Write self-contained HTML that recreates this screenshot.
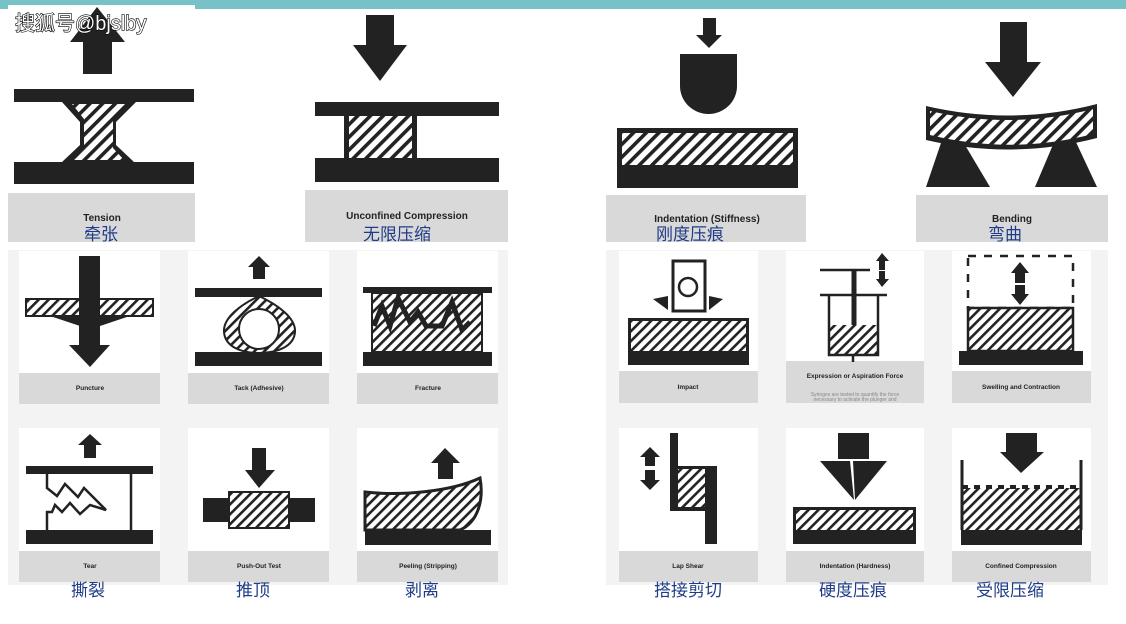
<!DOCTYPE html>
<html><head><meta charset="utf-8"><style>
html,body{margin:0;padding:0;background:#fff;}
svg{display:block}
.en{font-family:"Liberation Sans",sans-serif;font-weight:bold;fill:#222;text-anchor:middle}
.cn{font-family:"Liberation Sans","Noto Sans CJK SC",sans-serif;fill:#1f3c88;text-anchor:middle;font-size:17px}
</style></head><body>
<svg width="1126" height="624" viewBox="0 0 1126 624" xmlns="http://www.w3.org/2000/svg">
<defs>
<pattern id="h" width="9" height="9" patternUnits="userSpaceOnUse" patternTransform="rotate(45)">
<rect width="9" height="9" fill="#fff"/><rect x="0" y="0" width="3.6" height="9" fill="#222"/>
</pattern>
<pattern id="hs" width="7" height="7" patternUnits="userSpaceOnUse" patternTransform="rotate(45)">
<rect width="7" height="7" fill="#fff"/><rect x="0" y="0" width="2.6" height="7" fill="#222"/>
</pattern>
</defs>
<rect x="0" y="0" width="1126" height="9" fill="#76c2c6"/>
<rect x="8" y="5" width="187" height="10" fill="#fff"/>

<!-- Tension -->
<g fill="#222">
<polygon points="97,7 125,42 70,42"/><rect x="83" y="42" width="29" height="32"/>
<rect x="14" y="89" width="180" height="13"/>
<rect x="14" y="162" width="180" height="22"/>
<path d="M62,102 L136,102 L116,122 L116,145 L134,162 L62,162 L80,145 L80,122 Z"/>
</g>
<path d="M72,104 L126,104 L113,119 L113,148 L124,160 L72,160 L84,148 L84,119 Z" fill="url(#h)"/>
<rect x="8" y="193" width="187" height="49" fill="#d9d9d9"/>
<text class="en" x="102" y="221" font-size="10">Tension</text>
<text class="cn" x="101" y="240">牵张</text>

<!-- Unconfined -->
<g fill="#222">
<rect x="366" y="15" width="28" height="30"/><polygon points="353,45 407,45 380,81"/>
<rect x="315" y="102" width="184" height="14"/>
<rect x="315" y="158" width="184" height="24"/>
<rect x="344" y="116" width="73" height="42"/>
</g>
<rect x="349" y="116" width="63" height="42" fill="url(#h)"/>
<rect x="305" y="190" width="203" height="52" fill="#d9d9d9"/>
<text class="en" x="407" y="219" font-size="10">Unconfined Compression</text>
<text class="cn" x="397" y="240">无限压缩</text>

<!-- Indentation stiffness -->
<g fill="#222">
<rect x="703" y="18" width="13" height="17"/><polygon points="696,35 722,35 709,48"/>
<path d="M680,54 L737,54 L737,86 A28.5,28 0 0 1 680,86 Z"/>
<rect x="617" y="128" width="181" height="60"/>
</g>
<rect x="622" y="133" width="171" height="32" fill="url(#h)"/>
<rect x="606" y="195" width="200" height="47" fill="#d9d9d9"/>
<text class="en" x="707" y="222" font-size="10">Indentation (Stiffness)</text>
<text class="cn" x="690" y="240">刚度压痕</text>

<!-- Bending -->
<g fill="#222">
<rect x="1000" y="22" width="27" height="40"/><polygon points="985,62 1041,62 1013,97"/>
<polygon points="942,140 962,140 990,187 926,187"/>
<polygon points="1055,140 1075,140 1097,187 1035,187"/>
<path d="M926,106 Q1012,126 1097,104 L1097,138 Q1012,160 926,140 Z"/>
</g>
<path d="M930,111 Q1012,130 1093,109 L1093,134 Q1012,155 930,135 Z" fill="url(#h)"/>
<rect x="916" y="195" width="192" height="47" fill="#d9d9d9"/>
<text class="en" x="1012" y="222" font-size="10">Bending</text>
<text class="cn" x="1005" y="240">弯曲</text>

<!-- lower panels -->
<rect x="8" y="250" width="500" height="335" fill="#f3f3f3"/>
<rect x="606" y="250" width="502" height="335" fill="#f3f3f3"/>
<g fill="#fff">
<rect x="19" y="251" width="141" height="122"/><rect x="188" y="251" width="141" height="122"/><rect x="357" y="251" width="141" height="122"/>
<rect x="19" y="428" width="141" height="123"/><rect x="188" y="428" width="141" height="123"/><rect x="357" y="428" width="141" height="123"/>
<rect x="619" y="251" width="139" height="120"/><rect x="786" y="251" width="138" height="110"/><rect x="952" y="251" width="139" height="120"/>
<rect x="619" y="428" width="139" height="123"/><rect x="786" y="428" width="138" height="123"/><rect x="952" y="428" width="139" height="123"/>
</g>
<g fill="#d9d9d9">
<rect x="19" y="373" width="141" height="31"/><rect x="188" y="373" width="141" height="31"/><rect x="357" y="373" width="141" height="31"/>
<rect x="19" y="551" width="141" height="31"/><rect x="188" y="551" width="141" height="31"/><rect x="357" y="551" width="141" height="31"/>
<rect x="619" y="371" width="139" height="32"/><rect x="786" y="361" width="138" height="42"/><rect x="952" y="371" width="139" height="32"/>
<rect x="619" y="551" width="139" height="31"/><rect x="786" y="551" width="138" height="31"/><rect x="952" y="551" width="139" height="31"/>
</g>
<g class="en" font-size="6.5">
<text x="90" y="390">Puncture</text><text x="259" y="390">Tack (Adhesive)</text><text x="428" y="390">Fracture</text>
<text x="90" y="568">Tear</text><text x="259" y="568">Push-Out Test</text><text x="428" y="568">Peeling (Stripping)</text>
<text x="688" y="389">Impact</text><text x="855" y="378">Expression or Aspiration Force</text><text x="1021" y="389">Swelling and Contraction</text>
<text x="688" y="568">Lap Shear</text><text x="855" y="568">Indentation (Hardness)</text><text x="1021" y="568">Confined Compression</text>
</g>
<text x="855" y="396" font-family="Liberation Sans,sans-serif" font-size="5" fill="#888" text-anchor="middle">Syringes are tested to quantify the force</text>
<text x="855" y="401" font-family="Liberation Sans,sans-serif" font-size="5" fill="#888" text-anchor="middle">necessary to activate the plunger and</text>
<g class="cn">
<text x="88" y="596">撕裂</text><text x="253" y="596">推顶</text><text x="422" y="596">剥离</text>
<text x="688" y="596">搭接剪切</text><text x="853" y="596">硬度压痕</text><text x="1010" y="596">受限压缩</text>
</g>

<!-- Puncture -->
<rect x="26" y="299" width="127" height="17" fill="url(#hs)" stroke="#222" stroke-width="2"/>
<g fill="#222">
<path d="M50,316 L130,316 L100,326 L80,326 Z"/>
<rect x="79" y="256" width="21" height="89"/><polygon points="69,345 110,345 90,367"/>
</g>
<!-- Tack -->
<g fill="#222">
<polygon points="259,256 270,267 248,267"/><rect x="253" y="267" width="12" height="12"/>
<rect x="195" y="288" width="127" height="9"/><rect x="195" y="352" width="127" height="14"/>
</g>
<path d="M259,296 C240,305 223,318 224,332 C225,346 240,353 259,353 C278,353 294,346 295,332 C296,318 278,305 259,296 Z" fill="url(#hs)" stroke="#222" stroke-width="2"/>
<circle cx="259" cy="329" r="20" fill="#fff" stroke="#222" stroke-width="2"/>
<!-- Fracture -->
<g fill="#222"><rect x="363" y="287" width="129" height="6"/><rect x="363" y="352" width="129" height="14"/></g>
<rect x="372" y="293" width="110" height="59" fill="url(#hs)" stroke="#222" stroke-width="2"/>
<polyline points="374,326 382,306 390,326 398,298 410,322 418,312 426,326 442,326 452,302 462,330 470,322" fill="none" stroke="#222" stroke-width="5" stroke-linejoin="miter"/>
<!-- Tear -->
<g fill="#222">
<polygon points="90,434 102,445 78,445"/><rect x="84" y="445" width="12" height="13"/>
<rect x="26" y="466" width="127" height="8"/><rect x="26" y="530" width="127" height="14"/>
</g>
<g fill="none" stroke="#222" stroke-width="2.5">
<line x1="131" y1="474" x2="131" y2="530"/>
<path d="M47,474 L47,488 L57,496 L65,484 L78,497 L84,488 L106,510 L90,505 L80,514 L70,503 L62,512 L55,505 L52,512 L47,512 L47,530"/>
</g>
<!-- Push-out -->
<g fill="#222">
<rect x="252" y="448" width="14" height="23"/><polygon points="245,470 275,470 259,488"/>
<rect x="203" y="498" width="28" height="24"/><rect x="288" y="498" width="27" height="24"/>
</g>
<rect x="229" y="492" width="60" height="36" fill="url(#hs)" stroke="#222" stroke-width="2"/>
<!-- Peeling -->
<g fill="#222">
<polygon points="445,448 460,463 431,463"/><rect x="438" y="463" width="15" height="16"/>
<rect x="365" y="530" width="126" height="15"/>
</g>
<path d="M365,492 C400,496 450,492 480,478 C484,500 478,522 460,530 L365,530 Z" fill="url(#hs)" stroke="#222" stroke-width="3"/>

<!-- Impact -->
<rect x="673" y="261" width="32" height="50" fill="#fff" stroke="#222" stroke-width="3"/>
<circle cx="688" cy="287" r="9" fill="none" stroke="#222" stroke-width="2.5"/>
<g fill="#222">
<polygon points="653,299 668,310 668,296"/><polygon points="723,299 709,310 709,296"/>
<rect x="628" y="318" width="121" height="47"/>
</g>
<rect x="631" y="321" width="115" height="30" fill="url(#hs)"/>
<!-- Expression -->
<g fill="#222" stroke="#222">
<line x1="820" y1="270" x2="870" y2="270" stroke-width="2.5"/>
<line x1="854" y1="270" x2="854" y2="325" stroke-width="5"/>
<line x1="820" y1="295" x2="887" y2="295" stroke-width="2.5"/>
<line x1="853" y1="355" x2="853" y2="362" stroke-width="2.5"/>
<polygon points="882,253 889,261 876,261" stroke="none"/><rect x="879" y="261" width="6" height="9" stroke="none"/>
<polygon points="882,287 889,279 876,279" stroke="none"/><rect x="879" y="271" width="6" height="8" stroke="none"/>
</g>
<rect x="829" y="325" width="49" height="30" fill="url(#hs)"/>
<path d="M829,295 L829,355 L878,355 L878,295" fill="none" stroke="#222" stroke-width="2.5"/>
<!-- Swelling -->
<rect x="968" y="256" width="105" height="52" fill="none" stroke="#222" stroke-width="2.5" stroke-dasharray="8,8"/>
<g fill="#222">
<polygon points="1020,262 1029,273 1011,273"/><rect x="1015" y="273" width="10" height="10"/>
<polygon points="1020,305 1029,294 1011,294"/><rect x="1015" y="285" width="10" height="9"/>
<rect x="959" y="351" width="124" height="14"/>
</g>
<rect x="968" y="308" width="105" height="43" fill="url(#hs)" stroke="#222" stroke-width="2.5"/>
<!-- Lap shear -->
<g fill="#222">
<polygon points="650,447 660,457 640,457"/><rect x="645" y="457" width="10" height="9"/>
<polygon points="650,490 660,480 640,480"/><rect x="645" y="470" width="10" height="10"/>
<rect x="670" y="433" width="8" height="78"/><rect x="705" y="466" width="12" height="78"/>
<rect x="670" y="466" width="47" height="45"/>
</g>
<rect x="678" y="469" width="27" height="38" fill="url(#hs)"/>
<!-- Indentation hardness -->
<g fill="#222">
<rect x="838" y="433" width="31" height="26"/>
<polygon points="820,461 850,461 854,500"/><polygon points="853,461 887,461 855,500"/>
<rect x="793" y="507" width="123" height="37"/>
</g>
<rect x="796" y="510" width="117" height="20" fill="url(#hs)"/>
<!-- Confined -->
<g fill="#222">
<rect x="1006" y="433" width="31" height="20"/><polygon points="1000,452 1044,452 1021,473"/>
<rect x="961" y="530" width="121" height="15"/>
</g>
<rect x="962" y="488" width="119" height="42" fill="url(#hs)"/>
<line x1="962" y1="487" x2="1081" y2="487" stroke="#222" stroke-width="4" stroke-dasharray="6,6"/>
<path d="M962,460 L962,530 M1081,460 L1081,530" stroke="#222" stroke-width="3"/>

<!-- watermark -->
<text x="15" y="30" font-family="Liberation Sans,Noto Sans CJK SC,sans-serif" font-size="20" fill="#fff" stroke="#000" stroke-width="1.2" paint-order="stroke">搜狐号@bjslby</text>
</svg>
</body></html>
